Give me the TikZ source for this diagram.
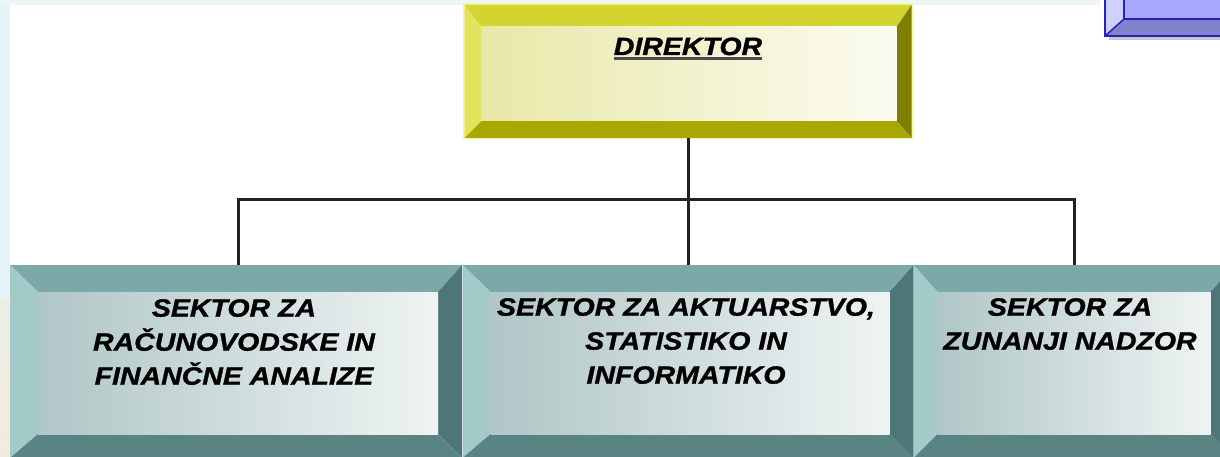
\documentclass[tikz,border=0pt]{standalone}
\usepackage{fontspec}
\newfontfamily\labfont[FakeStretch=1.14, BoldItalicFeatures={FakeBold=1.2}]{Liberation Sans}
\usetikzlibrary{calc}
\definecolor{ytop}{HTML}{D4D430}
\definecolor{yleft}{HTML}{E4E45C}
\definecolor{yright}{HTML}{808000}
\definecolor{ybot}{HTML}{A8A800}
\definecolor{yglow}{HTML}{F6F6A0}
\definecolor{yface}{HTML}{E8E8A8}
\definecolor{ttop}{HTML}{7BA8A8}
\definecolor{tleft}{HTML}{A3C9C9}
\definecolor{tright}{HTML}{4E7676}
\definecolor{tbot}{HTML}{5A8484}
\definecolor{tface}{HTML}{B0C6C6}
\definecolor{bface}{HTML}{A8A8FF}
\definecolor{bleft}{HTML}{D0D0FF}
\definecolor{bbot}{HTML}{8282CC}
\definecolor{bline}{HTML}{2424BC}
\definecolor{lineclr}{HTML}{222222}
\definecolor{stripc}{HTML}{E4F4F8}
\definecolor{stripb}{HTML}{F2EBDD}
\definecolor{topstrip}{HTML}{EEF5F5}
% #1 name, #2 left w, #3 top w, #4 right w, #5 bottom w, #6 left col, #7 top col, #8 right col, #9 bottom col
\newcommand{\bevelbox}[9]{%
  \coordinate (#1-a) at ([xshift=#2,yshift=-#3]#1.north west);
  \coordinate (#1-b) at ([xshift=-#4,yshift=-#3]#1.north east);
  \coordinate (#1-c) at ([xshift=-#4,yshift=#5]#1.south east);
  \coordinate (#1-d) at ([xshift=#2,yshift=#5]#1.south west);
  \fill[#7] (#1.north west) -- (#1.north east) -- (#1-b) -- (#1-a) -- cycle;
  \fill[#6] (#1.north west) -- (#1-a) -- (#1-d) -- (#1.south west) -- cycle;
  \fill[#8] (#1.north east) -- (#1.south east) -- (#1-c) -- (#1-b) -- cycle;
  \fill[#9] (#1.south west) -- (#1-d) -- (#1-c) -- (#1.south east) -- cycle;
}
\tikzset{
  box/.style={rectangle, inner sep=0pt, outer sep=0pt},
  lbl/.style={inner sep=0pt, align=center, text=black,
    font=\labfont\bfseries\itshape\fontsize{25}{34}\selectfont},
  conn/.style={draw=lineclr, line width=3pt},
  tfaceshade/.style={left color=tface, middle color=white, right color=white!80!tface},
}
\begin{document}
\begin{tikzpicture}[x=1pt,y=-1pt]
\useasboundingbox (0,0) rectangle (1220,457);
\clip (0,0) rectangle (1220,457);
\fill[white] (0,0) rectangle (1220,457);
% background strips
\shade[top color=stripc, bottom color=stripb] (0,0) rectangle (10,457);
\fill[stripc] (0,0) rectangle (10,300);
\fill[topstrip] (0,0) rectangle (1100,5);
% blue box top right
\fill[gray!45] (1109,-60) rectangle (1240,40);
\node[box, minimum width=135pt, minimum height=96pt] (blue) at (1172.5,-12) {};
\fill[bface] (blue.north west) rectangle (blue.south east);
\fill[bleft] (blue.north west) -- ([xshift=19pt]blue.north west) -- ([xshift=19pt,yshift=17pt]blue.south west) -- (blue.south west) -- cycle;
\fill[bbot] (blue.south west) -- ([xshift=19pt,yshift=17pt]blue.south west) -- ([yshift=17pt]blue.south east) -- (blue.south east) -- cycle;
\draw[bline, line width=1.5pt] (blue.north west) rectangle (blue.south east);
\draw[bline, line width=1.5pt] ([xshift=19pt]blue.north west) -- ([xshift=19pt,yshift=17pt]blue.south west) -- ([yshift=17pt]blue.south east);
\draw[bline, line width=1.5pt] (blue.south west) -- ([xshift=19pt,yshift=17pt]blue.south west);
% director
\node[box, minimum width=447pt, minimum height=133pt, draw=yglow, line width=3pt] (dir) at (688,71.5) {};
\bevelbox{dir}{17pt}{22pt}{15pt}{17pt}{yleft}{ytop}{yright}{ybot}
\shade[left color=yface, middle color=white, right color=white!85!yface] (dir-a) rectangle (dir-c);
\node[lbl, font=\labfont\bfseries\itshape\fontsize{25}{34}\selectfont, anchor=base] (dirt) at (688,55) {DIREKTOR};
\draw[gray!60!black, line width=3pt] ([yshift=-4pt]dirt.base west) -- ([yshift=-4pt]dirt.base east);
% sector boxes
\node[box, minimum width=452pt, minimum height=193pt] (b1) at (236,361.5) {};
\node[box, minimum width=451pt, minimum height=193pt] (b2) at (688,361.5) {};
\node[box, minimum width=321pt, minimum height=193pt] (b3) at (1074,361.5) {};
\bevelbox{b1}{28pt}{27pt}{24pt}{24pt}{tleft}{ttop}{tright}{tbot}
\bevelbox{b2}{28pt}{27pt}{24pt}{24pt}{tleft}{ttop}{tright}{tbot}
\bevelbox{b3}{24pt}{27pt}{24pt}{24pt}{tleft}{ttop}{tright}{tbot}
\shade[tfaceshade] (b1-a) rectangle (b1-c);
\shade[tfaceshade] (b2-a) rectangle (b2-c);
\shade[tfaceshade] (b3-a) rectangle (b3-c);
\node[lbl, anchor=north] (b1t) at (234,299) {SEKTOR ZA\\RAČUNOVODSKE IN\\FINANČNE ANALIZE};
\node[lbl, anchor=north] (b2t) at (686,298) {SEKTOR ZA AKTUARSTVO,\\STATISTIKO IN\\INFORMATIKO};
\node[lbl, anchor=north] (b3t) at (1070,298) {SEKTOR ZA\\ZUNANJI NADZOR};
% connectors
\coordinate (bus) at (688,200);
\draw[conn] (dir.south) -- (bus);
\draw[conn] (b1.north -| 238,0) |- (bus) -| (b3.north);
\draw[conn] (bus) -- (b2.north);
\end{tikzpicture}
\end{document}
